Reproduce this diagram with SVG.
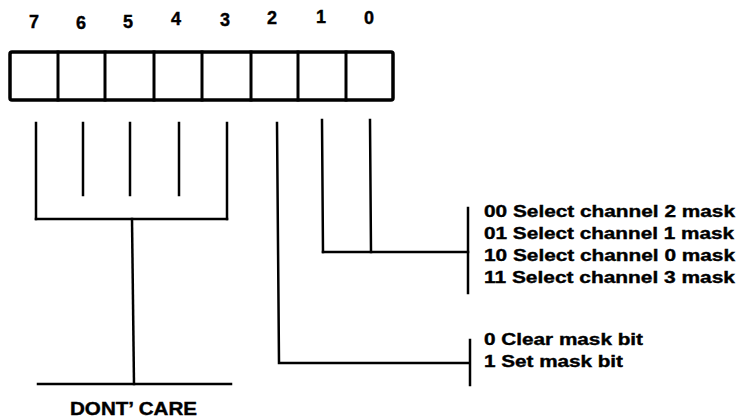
<svg xmlns="http://www.w3.org/2000/svg" width="741" height="420" viewBox="0 0 741 420">
<style>
text{font-family:"Liberation Sans",Arial,sans-serif;font-weight:bold;fill:#000;stroke:#000;stroke-width:0.4}
.n{font-size:18px;text-anchor:middle}
.t{font-size:17px}
.ln{fill:none;stroke:#000;stroke-width:2.5;stroke-linecap:square}
.box{fill:#fff;stroke:#000;stroke-width:3.5}
</style>
<rect width="741" height="420" fill="#fff"/>
<g id="register">
<rect class="box" x="10" y="52" width="383" height="48" rx="2"/>
<g class="ln" style="stroke-width:3">
<line x1="58" y1="52" x2="58" y2="100"/>
<line x1="105" y1="52" x2="105" y2="100"/>
<line x1="154" y1="52" x2="154" y2="100"/>
<line x1="202" y1="52" x2="202" y2="100"/>
<line x1="251" y1="52" x2="251" y2="100"/>
<line x1="298" y1="52" x2="298" y2="100"/>
<line x1="346" y1="52" x2="346" y2="100"/>
</g>
</g>
<g id="bit-labels">
<text class="n" x="34" y="28">7</text>
<text class="n" x="81" y="29">6</text>
<text class="n" x="128" y="28">5</text>
<text class="n" x="176" y="25">4</text>
<text class="n" x="225" y="26">3</text>
<text class="n" x="272" y="24">2</text>
<text class="n" x="321" y="23">1</text>
<text class="n" x="369" y="24">0</text>
</g>
<g id="connectors">
<line class="ln" x1="36" y1="123" x2="36" y2="219"/>
<line class="ln" x1="83" y1="123" x2="83" y2="195"/>
<line class="ln" x1="130" y1="123" x2="130" y2="195"/>
<line class="ln" x1="179" y1="123" x2="179" y2="195"/>
<line class="ln" x1="227" y1="123" x2="227" y2="219"/>
<line class="ln" x1="36" y1="219" x2="227" y2="219"/>
<line class="ln" x1="132" y1="219" x2="134" y2="384"/>
<line class="ln" x1="38" y1="384" x2="231" y2="384"/>
<polyline class="ln" points="277,123 279,363 469,363"/>
<line class="ln" x1="322" y1="120" x2="323" y2="252"/>
<line class="ln" x1="370" y1="120" x2="371" y2="252"/>
<line class="ln" x1="323" y1="252" x2="468" y2="252"/>
<line class="ln" x1="468" y1="208" x2="468" y2="293"/>
<line class="ln" x1="470" y1="340" x2="470" y2="385"/>
</g>
<g id="dont-care">
<text x="70" y="415" style="font-size:18px" textLength="127" lengthAdjust="spacingAndGlyphs">DONT’ CARE</text>
</g>
<g id="mask-select">
<text class="t" x="484" y="217" textLength="251" lengthAdjust="spacingAndGlyphs">00 Select channel 2 mask</text>
<text class="t" x="484" y="239" textLength="250" lengthAdjust="spacingAndGlyphs">01 Select channel 1 mask</text>
<text class="t" x="484" y="261" textLength="251" lengthAdjust="spacingAndGlyphs">10 Select channel 0 mask</text>
<text class="t" x="484" y="283" textLength="251" lengthAdjust="spacingAndGlyphs">11 Select channel 3 mask</text>
</g>
<g id="mask-bit">
<text class="t" x="484" y="345" textLength="159" lengthAdjust="spacingAndGlyphs">0 Clear mask bit</text>
<text class="t" x="484" y="367" textLength="139" lengthAdjust="spacingAndGlyphs">1 Set mask bit</text>
</g>
</svg>
